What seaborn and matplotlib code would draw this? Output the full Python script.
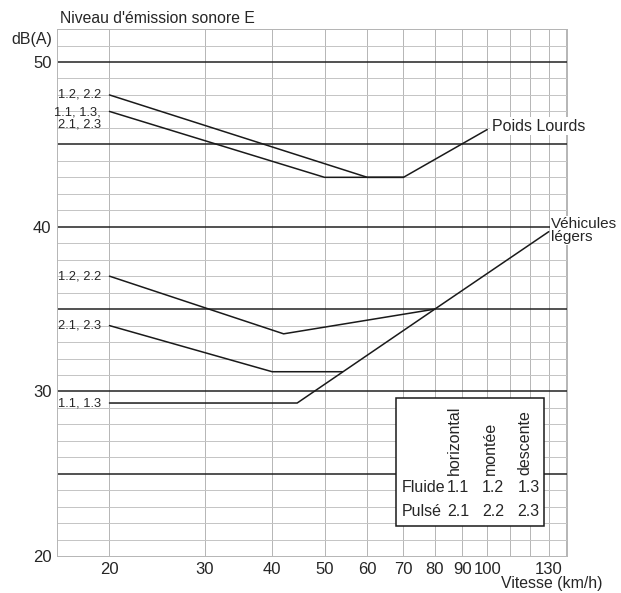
import numpy as np
import pandas as pd
import seaborn as sns
import matplotlib.pyplot as plt
from matplotlib.patches import Rectangle

# vitesse (km/h) / niveau E dB(A)
pl_122_v = [20, 60, 70, 100]
pl_122_e = [48, 43, 43, 45.9]
pl_111_v = [20, 50, 70]
pl_111_e = [47, 43, 43]

vl_122_v = [20, 42, 80, 130]
vl_122_e = [37, 33.5, 35, 39.7]
vl_212_v = [20, 40, 54]
vl_212_e = [34, 31.2, 31.2]
vl_111_v = [20, 44.5, 80]
vl_111_e = [29.3, 29.3, 35]

xticks = [20, 30, 40, 50, 60, 70, 80, 90, 100, 130]
xgrid = [20, 30, 40, 50, 60, 70, 80, 90, 100, 110, 120, 130, 140]
yticks = [20, 30, 40, 50]

sns.set_style("white")
plt.rcParams['font.family'] = ['Liberation Sans', 'DejaVu Sans']

fig = plt.figure(figsize=(6.21, 5.93), dpi=100)
ax = fig.add_axes([0.092, 0.062, 0.821, 0.889])
ax.set_xscale('log')
ax.set_xlim(16, 140.5)
ax.set_ylim(20, 52)

# grid
for v in xgrid:
    ax.axvline(v, color='#b5b5b5', lw=0.7, zorder=1)
for e in range(20, 53):
    if e % 5 == 0 and 25 <= e <= 50:
        ax.axhline(e, color='#222222', lw=1.1, zorder=2)
    else:
        ax.axhline(e, color='#c4c4c4', lw=0.7, zorder=1)

curves = [(pl_122_v, pl_122_e), (pl_111_v, pl_111_e),
          (vl_122_v, vl_122_e), (vl_212_v, vl_212_e), (vl_111_v, vl_111_e)]
for v, e in curves:
    df = pd.DataFrame({'v': v, 'e': e})
    sns.lineplot(data=df, x='v', y='e', ax=ax, color='#1a1a1a', lw=1.1,
                 estimator=None, sort=False, zorder=3)

ax.set_xlabel('')
ax.set_ylabel('')
ax.set_xticks(xticks)
ax.set_xticklabels([str(t) for t in xticks], fontsize=12)
ax.xaxis.set_minor_locator(plt.NullLocator())
ax.set_yticks(yticks)
ax.set_yticklabels([str(t) for t in yticks], fontsize=12)
ax.tick_params(axis='both', length=0)
ax.tick_params(axis='x', pad=4)
ax.tick_params(axis='y', pad=4)
for s in ax.spines.values():
    s.set_color('#b5b5b5')
    s.set_linewidth(0.7)

# labels
fs = 9.3
lx = 19.3
ax.text(lx, 48, '1.2, 2.2', fontsize=fs, ha='right', va='center')
ax.text(lx, 46.55, '1.1, 1.3,\n2.1, 2.3', fontsize=fs, ha='right', va='center',
        linespacing=1.0)
ax.text(lx, 37, '1.2, 2.2', fontsize=fs, ha='right', va='center')
ax.text(lx, 34, '2.1, 2.3', fontsize=fs, ha='right', va='center')
ax.text(lx, 29.3, '1.1, 1.3', fontsize=fs, ha='right', va='center')

ax.text(102, 46.1, 'Poids Lourds', fontsize=11.5, ha='left', va='center',
        zorder=4, bbox=dict(facecolor='white', edgecolor='none', pad=1))
ax.text(131, 40.6, 'Véhicules\nlégers', fontsize=11, ha='left', va='top',
        linespacing=0.95, clip_on=False, zorder=4,
        bbox=dict(facecolor='white', edgecolor='none', pad=0.5))

fig.text(0.097, 0.968, "Niveau d'émission sonore E", fontsize=11.3,
         ha='left', va='center')
fig.text(0.084, 0.933, 'dB(A)', fontsize=11.5, ha='right', va='center')
fig.text(0.97, 0.016, 'Vitesse (km/h)', fontsize=11.4, ha='right', va='center')

# table
tf = 11.5
ax.add_patch(Rectangle((0.665, 0.057), 0.29, 0.243, transform=ax.transAxes,
                       facecolor='white', edgecolor='#1a1a1a', lw=1.1, zorder=5))
cols = [(0.780, 'horizontal'), (0.849, 'montée'), (0.918, 'descente')]
for x, t in cols:
    ax.text(x, 0.154, t, transform=ax.transAxes, rotation=90, fontsize=tf,
            ha='center', va='bottom', zorder=6)
ax.text(0.676, 0.131, 'Fluide', transform=ax.transAxes, fontsize=tf,
        ha='left', va='center', zorder=6)
ax.text(0.676, 0.085, 'Pulsé', transform=ax.transAxes, fontsize=tf,
        ha='left', va='center', zorder=6)
for x, a, b in zip([0.786, 0.855, 0.925], ['1.1', '1.2', '1.3'], ['2.1', '2.2', '2.3']):
    ax.text(x, 0.131, a, transform=ax.transAxes, fontsize=tf, ha='center',
            va='center', zorder=6)
    ax.text(x, 0.085, b, transform=ax.transAxes, fontsize=tf, ha='center',
            va='center', zorder=6)

fig.savefig('out.png', dpi=100)
